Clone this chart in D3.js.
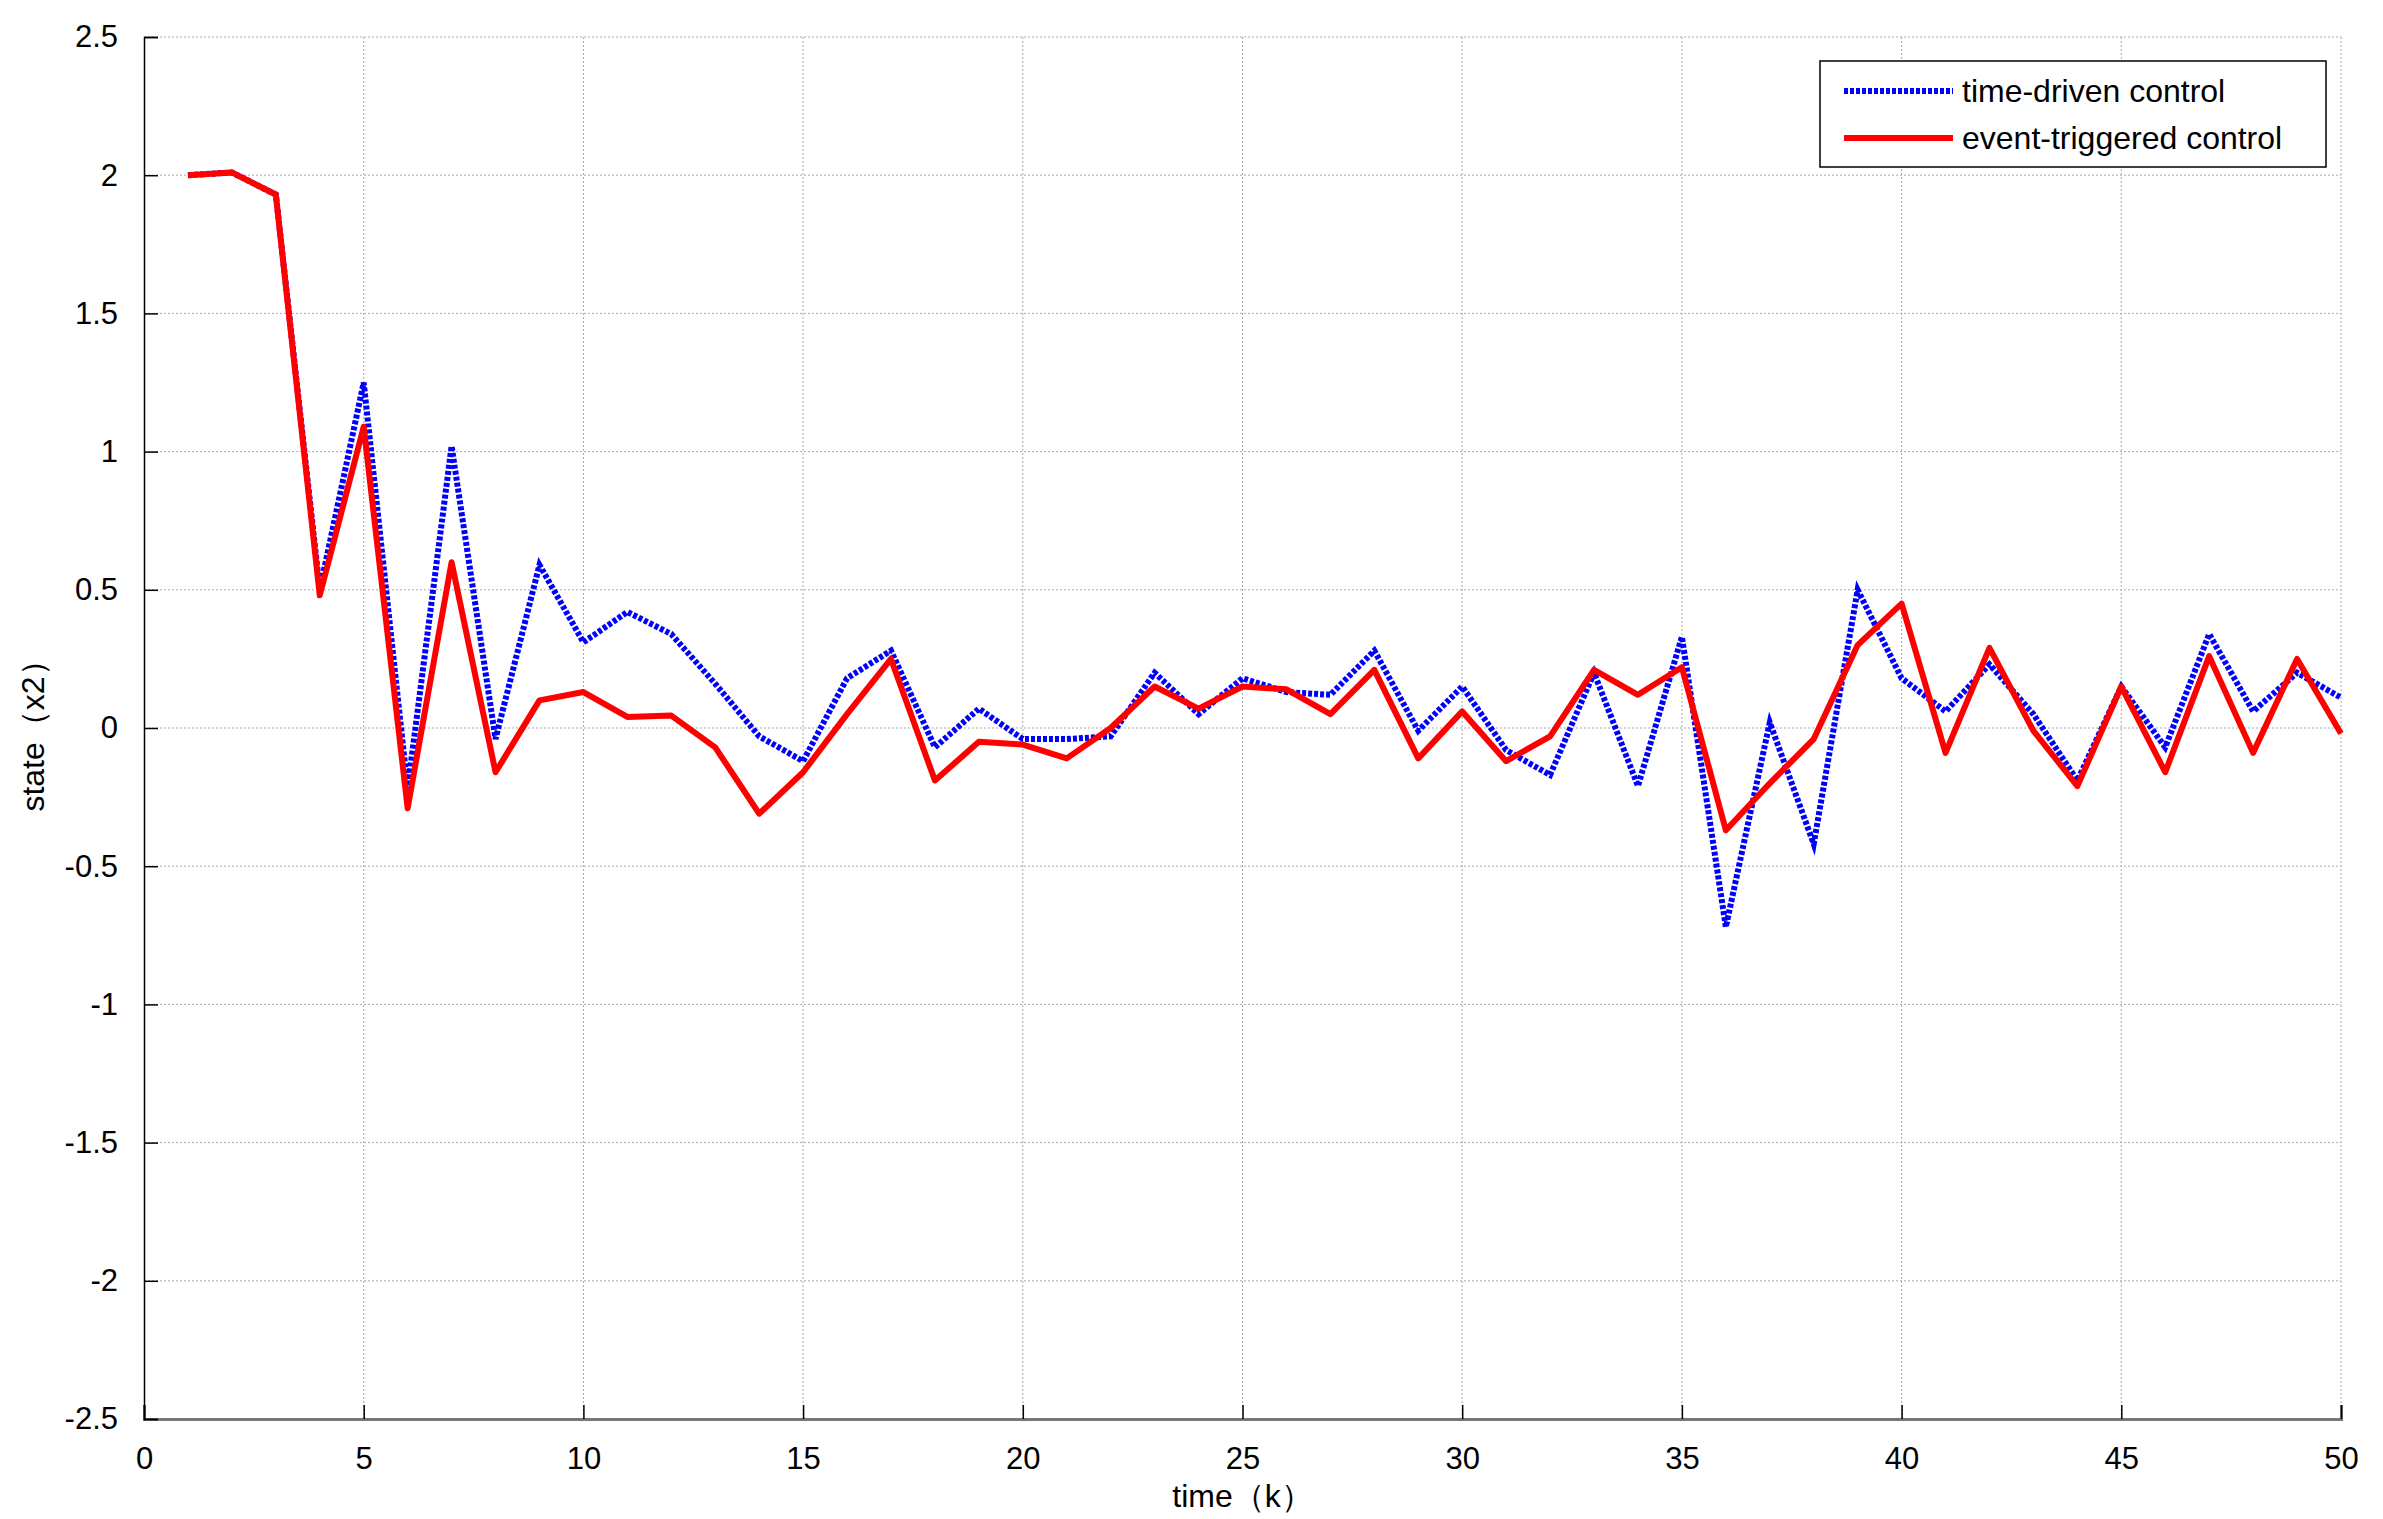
<!DOCTYPE html>
<html>
<head>
<meta charset="utf-8">
<script src="https://cdn.jsdelivr.net/npm/d3@7"></script>
<style>
  body { margin: 0; background: #fff; }
  text { font-family: "Liberation Sans", Arial, sans-serif; }
</style>
</head>
<body>
<div id="chart"></div>
<script>
// values, k = 1..50
var steps = d3.range(1, 51);

var timeDriven = [2.0, 2.01, 1.93, 0.5, 1.25, -0.22, 1.02, -0.04, 0.59, 0.31,
  0.42, 0.34, 0.16, -0.03, -0.12, 0.18, 0.28, -0.07, 0.07, -0.04,
  -0.04, -0.03, 0.2, 0.05, 0.18, 0.13, 0.12, 0.28, -0.01, 0.15,
  -0.08, -0.17, 0.2, -0.21, 0.33, -0.72, 0.02, -0.42, 0.5, 0.18,
  0.06, 0.23, 0.05, -0.19, 0.15, -0.07, 0.34, 0.06, 0.2, 0.11];

var eventTriggered = [2.0, 2.01, 1.93, 0.48, 1.09, -0.29, 0.6, -0.16, 0.1, 0.13,
  0.04, 0.045, -0.07, -0.31, -0.16, 0.05, 0.25, -0.19, -0.05, -0.06,
  -0.11, 0.0, 0.15, 0.07, 0.15, 0.14, 0.05, 0.21, -0.11, 0.06,
  -0.12, -0.03, 0.21, 0.12, 0.22, -0.37, -0.2, -0.04, 0.3, 0.45,
  -0.09, 0.29, -0.01, -0.21, 0.15, -0.16, 0.26, -0.09, 0.25, -0.02];

var xTicks = [0, 5, 10, 15, 20, 25, 30, 35, 40, 45, 50];
var yTicks = [-2.5, -2, -1.5, -1, -0.5, 0, 0.5, 1, 1.5, 2, 2.5];
var seriesNames = ["time-driven control", "event-triggered control"];

var W = 2383, H = 1519;
var margin = {top: 37, right: 42, bottom: 100, left: 144},
    width = W - margin.left - margin.right,
    height = H - margin.top - margin.bottom;

var svg = d3.select("#chart").append("svg")
    .attr("width", W).attr("height", H)
  .append("g")
    .attr("transform", "translate(" + margin.left + "," + margin.top + ")");

var x = d3.scaleLinear().domain([0, 50]).range([0, width]);
var y = d3.scaleLinear().domain([-2.5, 2.5]).range([height, 0]);

// grid
svg.append("g").selectAll("line").data(xTicks.slice(1)).enter().append("line")
  .attr("x1", d => x(d)).attr("x2", d => x(d)).attr("y1", 0).attr("y2", height)
  .attr("stroke", "#aaa").attr("stroke-width", 1).attr("stroke-dasharray", "2,2");
svg.append("g").selectAll("line").data(yTicks.slice(1)).enter().append("line")
  .attr("x1", 0).attr("x2", width).attr("y1", d => y(d)).attr("y2", d => y(d))
  .attr("stroke", "#aaa").attr("stroke-width", 1).attr("stroke-dasharray", "2,2");

// axes
var xAxis = svg.append("g")
  .attr("transform", "translate(0," + height + ")")
  .call(d3.axisBottom(x).tickValues(xTicks).tickSize(-14).tickPadding(28).tickFormat(d3.format("d")));
xAxis.select(".domain").attr("stroke", "#777").attr("stroke-width", 3);

var yAxis = svg.append("g")
  .call(d3.axisLeft(y).tickValues(yTicks).tickSize(-14).tickPadding(26).tickFormat(d => d));
yAxis.select(".domain").attr("stroke", "#000").attr("stroke-width", 1.5);

svg.selectAll(".tick text").attr("font-size", 31).attr("fill", "#000")
  .attr("font-family", "'Liberation Sans', Arial, sans-serif");
svg.selectAll(".tick line").attr("stroke", "#000").attr("stroke-width", 1.5);

// lines
var line = d3.line().x((d, i) => x(steps[i])).y(d => y(d));

svg.append("path").datum(timeDriven)
  .attr("d", line).attr("fill", "none")
  .attr("stroke", "#0000ff").attr("stroke-width", 6)
  .attr("stroke-dasharray", "4,2");

svg.append("path").datum(eventTriggered)
  .attr("d", line).attr("fill", "none")
  .attr("stroke", "#ff0000").attr("stroke-width", 6)
  .attr("stroke-linejoin", "round");

// axis labels
svg.append("text")
  .attr("x", width / 2).attr("y", height + 88)
  .attr("text-anchor", "middle").attr("font-size", 32)
  .text("time（k）");

svg.append("text")
  .attr("transform", "translate(-100," + (height / 2) + ") rotate(-90)")
  .attr("text-anchor", "middle").attr("font-size", 32)
  .text("state（x2）");

// legend
var lg = svg.append("g").attr("transform", "translate(" + (1820 - margin.left) + "," + (61 - margin.top) + ")");
lg.append("rect").attr("width", 506).attr("height", 106)
  .attr("fill", "#fff").attr("stroke", "#000").attr("stroke-width", 1.5);
var legendStyles = [
  {color: "#0000ff", dash: "4,2"},
  {color: "#ff0000", dash: null}
];
seriesNames.forEach(function(name, i) {
  var yy = 30 + i * 47;
  lg.append("line").attr("x1", 24).attr("x2", 133).attr("y1", yy).attr("y2", yy)
    .attr("stroke", legendStyles[i].color).attr("stroke-width", 6)
    .attr("stroke-dasharray", legendStyles[i].dash);
  lg.append("text").attr("x", 142).attr("y", yy + 11)
    .attr("font-size", 32).text(name);
});
</script>
</body>
</html>
